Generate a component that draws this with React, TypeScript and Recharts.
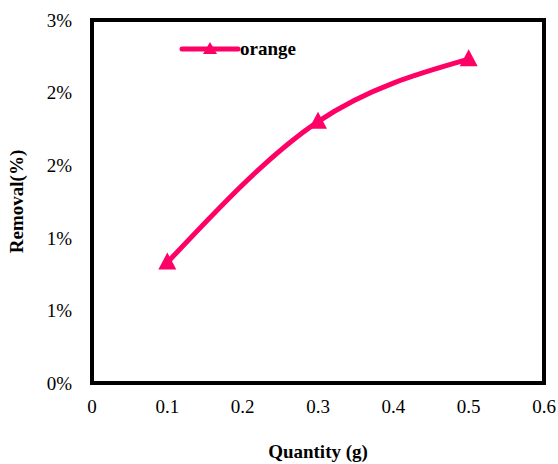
import {
  LineChart,
  Line,
  XAxis,
  YAxis,
  Legend,
  ReferenceArea,
  Label,
} from 'recharts'

const quantity = [0.1, 0.3, 0.5]
const removal = [0.83, 1.8, 2.23]
const xTicks = [0, 0.1, 0.2, 0.3, 0.4, 0.5, 0.6]
const yTicks = [0, 0.5, 1, 1.5, 2, 2.5]

const data = quantity.map((q, i) => ({ q, orange: removal[i] }))

const PINK = '#FF0066'
const FONT = '"Liberation Serif", "Times New Roman", serif'
const tickStyle = { fill: '#000', fontFamily: FONT, fontSize: 19 }
const titleStyle = { fill: '#000', fontFamily: FONT, fontWeight: 'bold', fontSize: 19 }

const Triangle = (props: any) => {
  const { cx, cy } = props
  if (cx == null || cy == null) return null
  return (
    <polygon
      points={`${cx},${cy - 10} ${cx + 9},${cy + 7} ${cx - 9},${cy + 7}`}
      fill={PINK}
    />
  )
}

const LegendBox = () => (
  <svg width={140} height={24}>
    <line x1={4} y1={11} x2={60} y2={11} stroke={PINK} strokeWidth={5} strokeLinecap="round" />
    <polygon points="32,4 39,16 25,16" fill={PINK} />
    <text x={62} y={17} fontFamily={FONT} fontWeight="bold" fontSize={19} fill="#000">
      orange
    </text>
  </svg>
)

export default function App() {
  return (
    <div style={{ position: 'absolute', left: 0, top: 0, background: '#fff' }}>
      <LineChart
        width={558}
        height={464}
        data={data}
        margin={{ top: 20, right: 14, bottom: 51, left: 32 }}
        style={{ fontFamily: FONT, fontSize: 19 }}
      >
        <XAxis
          dataKey="q"
          type="number"
          domain={[0, 0.6]}
          ticks={xTicks}
          tickFormatter={(v) => `${Number(v.toFixed(1))}`}
          axisLine={false}
          tickLine={false}
          tickMargin={11}
          height={30}
          fontSize={19}
          fontFamily={FONT}
          tick={tickStyle}
        >
          <Label value="Quantity (g)" position="bottom" offset={32} style={titleStyle} />
        </XAxis>
        <YAxis
          type="number"
          domain={[0, 2.5]}
          ticks={yTicks}
          tickFormatter={(v) => `${Math.round(v)}%`}
          axisLine={false}
          tickLine={false}
          tickMargin={14}
          width={60}
          fontSize={19}
          fontFamily={FONT}
          tick={tickStyle}
        >
          <Label
            value="Removal(%)"
            angle={-90}
            position="left"
            offset={16}
            style={{ ...titleStyle, textAnchor: 'middle' }}
          />
        </YAxis>
        <ReferenceArea
          x1={0}
          x2={0.6}
          y1={0}
          y2={2.5}
          fill="none"
          stroke="#000"
          strokeWidth={4}
          ifOverflow="visible"
        />
        <Legend
          content={<LegendBox />}
          layout="vertical"
          verticalAlign="middle"
          align="center"
          wrapperStyle={{ top: 38, left: 178, width: 140 }}
        />
        <Line
          type="monotone"
          dataKey="orange"
          stroke={PINK}
          strokeWidth={5}
          dot={<Triangle />}
          activeDot={false}
          isAnimationActive={false}
        />
      </LineChart>
    </div>
  )
}
